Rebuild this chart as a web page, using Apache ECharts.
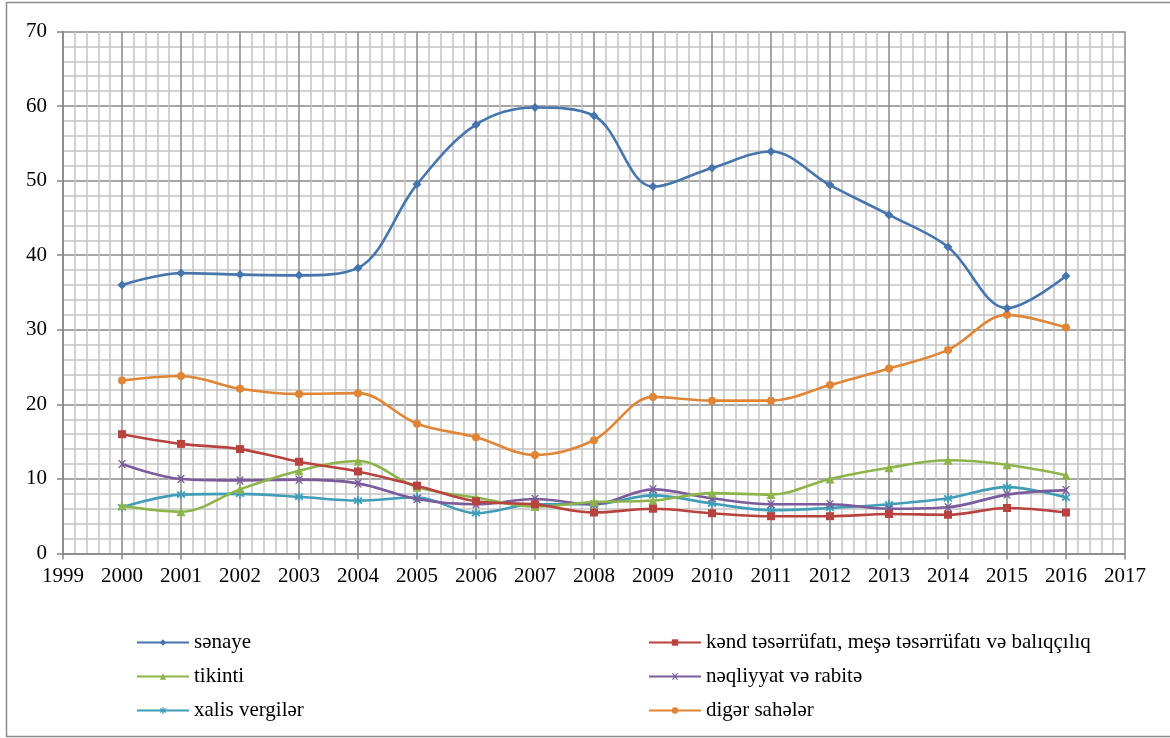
<!DOCTYPE html>
<html>
<head>
<meta charset="utf-8">
<script src="https://cdn.jsdelivr.net/npm/echarts@6/dist/echarts.min.js"></script>
<style>
html,body{margin:0;padding:0;background:#fff;}
#chart{width:1170px;height:738px;}
</style>
</head>
<body>
<div id="chart"></div>
<script>
const years = [2000,2001,2002,2003,2004,2005,2006,2007,2008,2009,2010,2011,2012,2013,2014,2015,2016];
const xTicks = [1999,2000,2001,2002,2003,2004,2005,2006,2007,2008,2009,2010,2011,2012,2013,2014,2015,2016,2017];
const yTicks = [0,10,20,30,40,50,60,70];

const names = [
  "sənaye",
  "kənd təsərrüfatı, meşə təsərrüfatı və balıqçılıq",
  "tikinti",
  "nəqliyyat və rabitə",
  "xalis vergilər",
  "digər sahələr"
];

const senaye   = [36.0,37.6,37.4,37.3,38.3,49.5,57.5,59.8,58.7,49.2,51.7,53.9,49.4,45.4,41.1,32.9,37.2];
const kend     = [16.0,14.7,14.0,12.3,11.0,9.1,7.0,6.6,5.5,6.0,5.4,5.0,5.0,5.3,5.2,6.1,5.5];
const tikinti  = [6.4,5.6,8.6,11.1,12.4,8.9,7.5,6.3,6.9,7.1,8.1,7.9,10.0,11.5,12.5,11.9,10.5];
const neqliyyat= [12.0,10.0,9.8,9.9,9.4,7.3,6.6,7.3,6.6,8.6,7.4,6.6,6.6,6.0,6.2,7.9,8.5];
const vergiler = [6.2,7.9,8.0,7.6,7.1,7.5,5.4,6.6,6.6,7.8,6.7,5.8,6.1,6.6,7.4,8.9,7.5];
const diger    = [23.2,23.8,22.1,21.4,21.5,17.4,15.6,13.2,15.2,21.0,20.5,20.5,22.6,24.8,27.3,32.0,30.3];

const colors = ["#4675ae","#b8423e","#8db44b","#7b5b9b","#3f9db8","#e08435"];
const FONT = 'Liberation Serif';

const xPath = 'path://M0,0 L2,0 L5,3 L8,0 L10,0 L6,5 L10,10 L8,10 L5,7 L2,10 L0,10 L4,5 Z';
const starPath = 'path://M4,0 L6,0 L6,3.5 L8.5,1 L10,2.5 L7,5 L10,7.5 L8.5,9 L6,6.5 L6,10 L4,10 L4,6.5 L1.5,9 L0,7.5 L3,5 L0,2.5 L1.5,1 L4,3.5 Z';

const seriesData = [senaye,kend,tikinti,neqliyyat,vergiler,diger];
const symbols = ['diamond','rect','triangle',xPath,starPath,'circle'];
const symSizes = [9,8,9,8,9,8];

const series = seriesData.map((arr,i)=>({
  name: names[i],
  type: 'line',
  smooth: 0.35,
  data: years.map((y,j)=>[y,arr[j]]),
  symbol: symbols[i],
  symbolSize: symSizes[i],
  showSymbol: true,
  lineStyle: {color: colors[i], width: 2.6},
  itemStyle: {color: colors[i], borderWidth: 0},
  emphasis: {disabled: true},
  z: 10 - i
}));

const legendText = {color: '#000', fontFamily: FONT, fontSize: 21, lineHeight: 20};

const chart = echarts.init(document.getElementById('chart'), null, {renderer:'canvas'});
chart.setOption({
  animation: false,
  backgroundColor: '#fff',
  color: colors,
  textStyle: {fontFamily: FONT},
  graphic: [{
    type: 'rect',
    shape: {x: 6.5, y: 2.5, width: 1170, height: 734},
    style: {fill: 'none', stroke: '#8c8c8c', lineWidth: 1.5},
    silent: true,
    z: -1
  }],
  grid: {left: 63, right: 45, top: 31.5, bottom: 184.5, containLabel: false},
  xAxis: {
    type: 'value',
    min: xTicks[0],
    max: xTicks[xTicks.length-1],
    interval: 1,
    axisLine: {show: true, lineStyle: {color: '#868686', width: 1.5}},
    axisTick: {show: true, length: 6, lineStyle: {color: '#868686', width: 1.5}},
    minorTick: {show: false, splitNumber: 5},
    minorSplitLine: {show: true, lineStyle: {color: '#c4c4c4', width: 1.5}},
    splitLine: {show: true, lineStyle: {color: '#8a8a8a', width: 1.5}},
    axisLabel: {color: '#000', fontFamily: FONT, fontSize: 21, margin: 12, formatter: v => String(v)}
  },
  yAxis: {
    type: 'value',
    min: yTicks[0],
    max: yTicks[yTicks.length-1],
    interval: 10,
    axisLine: {show: true, lineStyle: {color: '#868686', width: 1.5}},
    axisTick: {show: true, length: 6, lineStyle: {color: '#868686', width: 1.5}},
    minorTick: {show: false, splitNumber: 5},
    minorSplitLine: {show: true, lineStyle: {color: '#c4c4c4', width: 1.5}},
    splitLine: {show: true, lineStyle: {color: '#8a8a8a', width: 1.5}},
    axisLabel: {color: '#000', fontFamily: FONT, fontSize: 21, margin: 16, formatter: v => String(v)}
  },
  legend: [
    {
      data: [names[0], names[2], names[4]],
      orient: 'vertical',
      left: 131, top: 627,
      itemWidth: 52, itemHeight: 8, itemGap: 13,
      textStyle: legendText,
      selectedMode: false
    },
    {
      data: [names[1], names[3], names[5]],
      orient: 'vertical',
      left: 643, top: 627,
      itemWidth: 52, itemHeight: 8, itemGap: 13,
      textStyle: legendText,
      selectedMode: false
    }
  ],
  series: series
});
</script>
</body>
</html>
